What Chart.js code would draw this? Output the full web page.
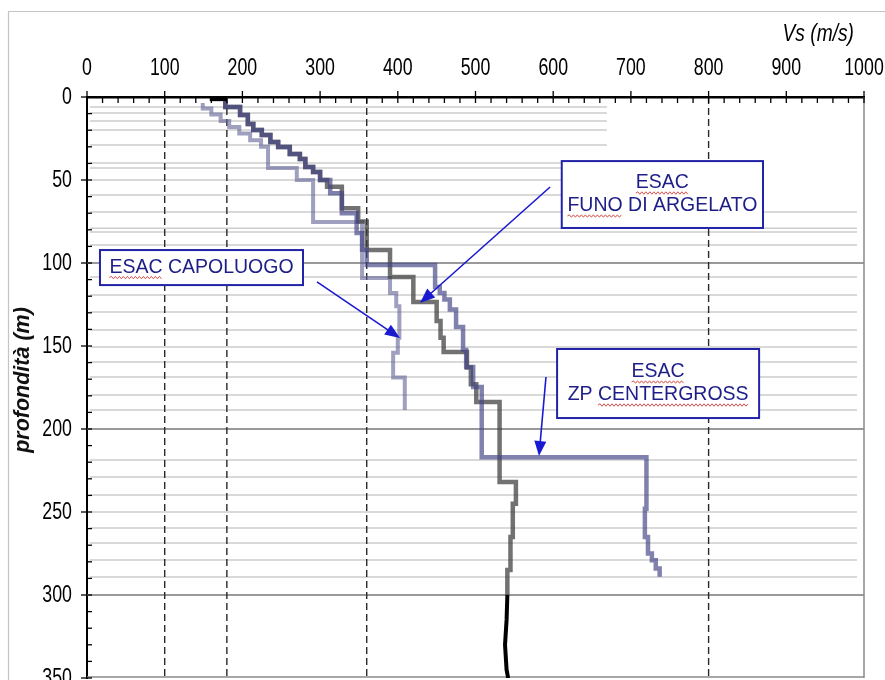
<!DOCTYPE html>
<html>
<head>
<meta charset="utf-8">
<script src="https://cdn.jsdelivr.net/npm/chart.js@4.4.1/dist/chart.umd.min.js"></script>
<style>
  html, body { margin: 0; padding: 0; background: #fff; }
  #wrap { position: relative; width: 885px; height: 680px; }
</style>
</head>
<body>
<div id="wrap"><canvas id="chart" width="885" height="680"></canvas></div>
<script>
// --- Data: layer boundaries (m) and Vs of each layer (m/s) ---
const funoDepth = [0, 6, 10.8, 16.3, 19.9, 22.9, 27.1, 30.1, 34.3, 37.3, 42.2, 45.2, 50, 54, 67, 75, 92.2, 108.4, 123.5, 135, 145, 153.6, 163, 173, 183.7, 232, 245, 265, 285, 300];
const funoVs    = [178, 197, 207, 214, 225, 236, 246, 261, 274, 281, 291, 300, 309, 328, 349, 360, 390, 420, 450, 455, 459, 489, 494, 501, 531, 552, 548, 545, 541];

const centerDepth = [0, 6, 10.8, 16.3, 19.9, 22.9, 27.1, 30.1, 34.3, 37.3, 42.2, 45.2, 50, 58, 70, 82, 92, 101.2, 114.5, 118, 122, 128, 138.5, 152.4, 162.7, 174.7, 217, 248, 265, 275, 279, 284, 289];
const centerVs    = [178, 197, 207, 214, 225, 236, 246, 261, 274, 281, 291, 300, 313, 328, 347, 354, 360, 448, 454, 460, 467, 475, 484, 488, 497, 508, 720, 718, 722, 727, 732, 737];

const capoDepth = [3.6, 7, 10.5, 14.5, 18, 22, 26, 30, 42.8, 50, 75.3, 109, 118, 126, 145, 154, 169, 188.5];
const capoVs    = [149, 160, 172, 183, 196, 210, 224, 233, 270, 291, 354, 390, 398, 402, 400, 394, 409];

// black reference profile: visible pieces at the surface and below 300 m
const refTopVs    = [158, 180];
const refTopDepth = [1, 1];
const refVs    = [541, 540, 538, 540, 542];
const refDepth = [300, 315, 330, 345, 350];

// EC8 class limits (dashed verticals)
const classLimits = [100, 180, 360, 800];

// thin horizontal lines of the layer table
const shortLines = [6, 9.6, 14.5, 19.9, 28.9, 39.8, 42.8, 50, 59];
const longLines  = [69.3, 79, 81.3, 89.2, 108.4, 119.3, 129.5, 140.4, 150.6, 159.6, 168.7, 179.5, 188.6, 218.7, 228.9, 239.8, 250, 259.6, 268.7, 278.9, 289.2];
const boldLines  = [100, 200, 300];

const xTitle = 'Vs (m/s)';
const yTitle = 'profondità (m)';

// annotations (data coordinates)
const notes = [
  { lines: ['ESAC', 'FUNO DI ARGELATO'], box: [611, 870, 38.6, 78.9], from: [596, 54.2], to: [428.6, 124.1], squiggle: ['ESAC', 'FUNO'] },
  { lines: ['ESAC CAPOLUOGO'], box: [16.7, 278, 92.2, 113.3], from: [296, 111.4], to: [402.8, 145.2], squiggle: ['ESAC'] },
  { lines: ['ESAC', 'ZP CENTERGROSS'], box: [605, 865, 151.8, 193.4], from: [590.7, 168.7], to: [581.7, 216.3], squiggle: ['ESAC', 'CENTERGROSS'] },
];

const SANS = "'Liberation Sans', Arial, sans-serif";

function stepPoints(depths, vs) {
  const pts = [];
  vs.forEach((v, i) => {
    pts.push({ x: v, y: depths[i] });
    pts.push({ x: v, y: depths[i + 1] });
  });
  return pts;
}
function pairPoints(xs, ys) {
  return xs.map((x, i) => ({ x, y: ys[i] }));
}

function profile(label, data, color, order, width) {
  return {
    label, data, order,
    showLine: true, borderColor: color, borderWidth: width || 4.5,
    pointRadius: 0, tension: 0, borderJoinStyle: 'miter', borderCapStyle: 'butt',
  };
}

// narrow text (the original uses a condensed face)
function narrowText(ctx, text, px, py, align, font, squeeze) {
  ctx.save();
  ctx.font = font;
  ctx.textBaseline = 'middle';
  ctx.textAlign = 'left';
  const w = ctx.measureText(text).width * squeeze;
  let left = px;
  if (align === 'center') left = px - w / 2;
  else if (align === 'right') left = px - w;
  ctx.translate(left, py);
  ctx.scale(squeeze, 1);
  ctx.fillText(text, 0, 0);
  ctx.restore();
}

// --- Overlay: layer lines, class limits, ticks, labels, annotations ---
const overlay = {
  id: 'overlay',
  beforeDatasetsDraw(chart) {
    const { ctx, chartArea: a, scales: { x, y } } = chart;
    ctx.save();
    ctx.lineWidth = 1.5;
    ctx.strokeStyle = '#cdcdcd';
    shortLines.forEach(d => hLine(ctx, x.getPixelForValue(0) + 3, x.getPixelForValue(669), y.getPixelForValue(d)));
    longLines.forEach(d => hLine(ctx, x.getPixelForValue(0) + 3, x.getPixelForValue(991), y.getPixelForValue(d)));
    ctx.strokeStyle = '#999';
    ctx.lineWidth = 2;
    boldLines.forEach(d => hLine(ctx, a.left, a.right, y.getPixelForValue(d)));

    // right border and bottom
    ctx.strokeStyle = '#8a8a8a';
    ctx.lineWidth = 1.5;
    ctx.beginPath();
    ctx.moveTo(a.right, a.top); ctx.lineTo(a.right, a.bottom);
    ctx.moveTo(a.left, a.bottom - 1); ctx.lineTo(a.right, a.bottom - 1);
    ctx.stroke();

    // class limits
    ctx.strokeStyle = '#2a2a2a';
    ctx.lineWidth = 1.4;
    ctx.setLineDash([7, 4]);
    classLimits.forEach(v => {
      const px = x.getPixelForValue(v);
      ctx.beginPath(); ctx.moveTo(px, a.top); ctx.lineTo(px, a.bottom); ctx.stroke();
    });
    ctx.restore();
  },
  afterDatasetsDraw(chart) {
    const { ctx, chartArea: a, scales: { x, y } } = chart;
    ctx.save();
    // ticks on the Vs axis: major every 100, minor every 20
    ctx.strokeStyle = '#000';
    ctx.lineWidth = 1.3;
    for (let v = 0; v <= 1000; v += 20) {
      const px = x.getPixelForValue(v);
      const major = v % 100 === 0;
      ctx.beginPath();
      ctx.moveTo(px, a.top - (major ? 6 : 0));
      ctx.lineTo(px, a.top + 6);
      ctx.stroke();
    }
    // ticks on the depth axis: major every 50, minor every 10
    for (let d = 0; d <= 350; d += 10) {
      const py = y.getPixelForValue(d);
      const major = d % 50 === 0;
      ctx.beginPath();
      ctx.moveTo(a.left - (major ? 6 : 0), py);
      ctx.lineTo(a.left + 5, py);
      ctx.stroke();
    }

    // tick labels from the scales' own ticks
    ctx.fillStyle = '#000';
    const tickFont = '24px ' + SANS;
    x.ticks.forEach(t => narrowText(ctx, String(t.value), x.getPixelForValue(t.value), a.top - 29, 'center', tickFont, 0.74));
    y.ticks.forEach(t => narrowText(ctx, String(t.value), a.left - 15, y.getPixelForValue(t.value), 'right', tickFont, 0.74));

    // axis titles
    narrowText(ctx, xTitle, a.right - 10, 34, 'right', 'italic 24px ' + SANS, 0.8);
    ctx.save();
    ctx.translate(23, 380);
    ctx.rotate(-Math.PI / 2);
    ctx.font = 'italic bold 21.5px ' + SANS;
    ctx.textAlign = 'center';
    ctx.textBaseline = 'middle';
    ctx.fillStyle = '#111';
    ctx.fillText(yTitle, 0, 0);
    ctx.restore();

    // annotations
    notes.forEach(n => drawNote(ctx, x, y, n));

    // outer frame of the picture
    ctx.strokeStyle = '#c4c4c4';
    ctx.lineWidth = 1.2;
    ctx.beginPath();
    ctx.moveTo(8.5, 680); ctx.lineTo(8.5, 11.5); ctx.lineTo(885, 11.5);
    ctx.stroke();
    ctx.restore();
  }
};

function hLine(ctx, x1, x2, py) {
  ctx.beginPath(); ctx.moveTo(x1, py); ctx.lineTo(x2, py); ctx.stroke();
}

function drawNote(ctx, x, y, n) {
  const [v1, v2, d1, d2] = n.box;
  const l = x.getPixelForValue(v1), r = x.getPixelForValue(v2);
  const t = y.getPixelForValue(d1), b = y.getPixelForValue(d2);

  // arrow
  const fx = x.getPixelForValue(n.from[0]), fy = y.getPixelForValue(n.from[1]);
  const tx = x.getPixelForValue(n.to[0]), ty = y.getPixelForValue(n.to[1]);
  const ang = Math.atan2(ty - fy, tx - fx);
  const head = 15, half = 6;
  ctx.strokeStyle = '#1a1ad0';
  ctx.fillStyle = '#1a1ad0';
  ctx.lineWidth = 1.6;
  ctx.beginPath();
  ctx.moveTo(fx, fy);
  ctx.lineTo(tx - Math.cos(ang) * head * 0.8, ty - Math.sin(ang) * head * 0.8);
  ctx.stroke();
  ctx.beginPath();
  ctx.moveTo(tx, ty);
  ctx.lineTo(tx - Math.cos(ang) * head - Math.sin(ang) * half, ty - Math.sin(ang) * head + Math.cos(ang) * half);
  ctx.lineTo(tx - Math.cos(ang) * head + Math.sin(ang) * half, ty - Math.sin(ang) * head - Math.cos(ang) * half);
  ctx.closePath();
  ctx.fill();

  // box
  ctx.fillStyle = '#fff';
  ctx.fillRect(l, t, r - l, b - t);
  ctx.strokeStyle = '#2323a8';
  ctx.lineWidth = 2;
  ctx.strokeRect(l, t, r - l, b - t);

  // text
  ctx.font = '19.5px ' + SANS;
  ctx.textAlign = 'center';
  ctx.textBaseline = 'middle';
  const cx = (l + r) / 2;
  const gap = 23;
  const y0 = (t + b) / 2 - (n.lines.length - 1) * gap / 2;
  n.lines.forEach((line, i) => {
    const ly = y0 + i * gap;
    ctx.fillStyle = '#1e1e88';
    ctx.fillText(line, cx, ly);
    // red spell-check squiggles under some words
    const full = ctx.measureText(line).width;
    n.squiggle.forEach(word => {
      const idx = line.indexOf(word);
      if (idx < 0) return;
      const start = cx - full / 2 + ctx.measureText(line.slice(0, idx)).width;
      const w = ctx.measureText(word).width;
      squiggle(ctx, start, start + w, ly + 10);
    });
  });
}

function squiggle(ctx, x1, x2, py) {
  ctx.save();
  ctx.strokeStyle = '#d8504a';
  ctx.lineWidth = 1;
  ctx.beginPath();
  let up = true;
  ctx.moveTo(x1, py);
  for (let px = x1 + 2; px <= x2; px += 2) {
    ctx.lineTo(px, py + (up ? -1.2 : 1.2));
    up = !up;
  }
  ctx.stroke();
  ctx.restore();
}

function pinScale(size) {
  return s => {
    if (s.isHorizontal()) s.height = size; else s.width = size;
    s.paddingLeft = 0; s.paddingRight = 0; s.paddingTop = 0; s.paddingBottom = 0;
  };
}

const ctx = document.getElementById('chart').getContext('2d');
new Chart(ctx, {
  type: 'scatter',
  data: {
    datasets: [
      profile('Riferimento', pairPoints(refVs, refDepth), '#000', 0, 4),
      profile('Riferimento superficie', pairPoints(refTopVs, refTopDepth), '#000', 0, 5),
      profile('ESAC ZP Centergross', stepPoints(centerDepth, centerVs), 'rgba(70,70,135,0.68)', 1),
      profile('ESAC Funo di Argelato', stepPoints(funoDepth, funoVs), 'rgba(60,60,60,0.72)', 2),
      profile('ESAC Capoluogo', stepPoints(capoDepth, capoVs), 'rgba(95,95,150,0.6)', 3, 4),
    ]
  },
  options: {
    responsive: false,
    animation: false,
    events: [],
    layout: { padding: { left: 0, top: 20, right: 21, bottom: 2 } },
    plugins: { legend: { display: false }, tooltip: { enabled: false } },
    scales: {
      x: {
        type: 'linear', position: 'top', min: 0, max: 1000,
        ticks: { stepSize: 100, display: false },
        grid: { display: false, drawTicks: false },
        border: { display: true, color: '#000', width: 2.5 },
        afterFit: pinScale(77),
      },
      y: {
        type: 'linear', reverse: true, min: 0, max: 350,
        ticks: { stepSize: 50, display: false },
        grid: { display: false, drawTicks: false },
        border: { display: true, color: '#000', width: 2 },
        afterFit: pinScale(87),
      }
    }
  },
  plugins: [overlay]
});
</script>
</body>
</html>
